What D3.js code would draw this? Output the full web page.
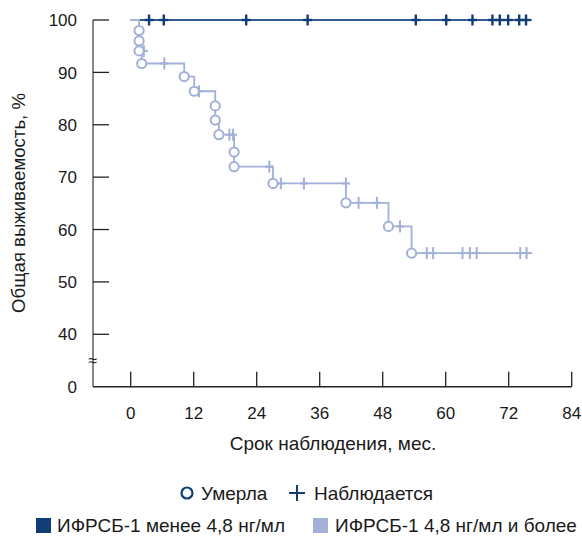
<!DOCTYPE html>
<html>
<head>
<meta charset="utf-8">
<script src="https://cdn.jsdelivr.net/npm/d3@7"></script>
<style>
  body { margin: 0; background: #fff; }
  svg text { font-family: "Liberation Sans", Arial, sans-serif; fill: #1a1a1a; }
</style>
</head>
<body>
<div id="chart"></div>
<script>
// données (mois, %)
const xTicks = [0, 12, 24, 36, 48, 60, 72, 84];
const yTicks = [0, 40, 50, 60, 70, 80, 90, 100];

// groupe ИФРСБ-1 < 4,8 : aucun décès, seulement des censures
const lowEnd = 76.4;
const lowCensorTimes = [3.5, 6.3, 22.0, 33.7, 54.3, 60.1, 65.1, 68.9, 70.3, 71.9, 74.0, 75.3];

// groupe ИФРСБ-1 >= 4,8
const highEnd = 76.5;
const highDeathTimes = [1.6, 1.6, 1.6, 2.1, 10.2, 12.1, 16.1, 16.1, 16.8, 19.7, 19.7, 27.1, 41.0, 49.1, 53.5];
const highDeathSurv  = [98.0, 96.0, 94.1, 91.7, 89.2, 86.4, 83.6, 80.9, 78.1, 74.8, 72.0, 68.8, 65.1, 60.6, 55.5];
const highCensorTimes = [2.5, 6.4, 13.0, 18.8, 19.5, 26.4, 28.6, 33.0, 41.0, 43.4, 46.9, 51.3, 56.4, 57.6, 63.2, 64.6, 65.9, 74.2, 75.4];
const highCensorSurv  = [94.1, 91.7, 86.4, 78.1, 78.1, 72.0, 68.8, 68.8, 68.8, 65.1, 65.1, 60.6, 55.5, 55.5, 55.5, 55.5, 55.5, 55.5, 55.5];

const legendMarks = ["Умерла", "Наблюдается"];
const legendGroups = ["ИФРСБ-1 менее 4,8 нг/мл", "ИФРСБ-1 4,8 нг/мл и более"];

const darkLine = "#2f5d92";
const darkMark = "#103d76";
const light = "#a3b0d7";

const width = 582, height = 536;
const svg = d3.select("#chart").append("svg")
  .attr("width", width).attr("height", height);

const x = d3.scaleLinear().domain([0, 84]).range([130.7, 571.7]);
// axe coupé : 0 puis 40–100
const y = d3.scaleLinear().domain([0, 40, 100]).range([386.7, 334.3, 20]);
const axisLeftX = 93;

// axe Y
svg.append("line")
  .attr("x1", axisLeftX).attr("x2", axisLeftX)
  .attr("y1", y(100)).attr("y2", y(0))
  .attr("stroke", "#555").attr("stroke-width", 1.4);

svg.selectAll(".ytick").data(yTicks.filter(d => d > 0)).enter()
  .append("line")
    .attr("x1", axisLeftX).attr("x2", axisLeftX + 16)
    .attr("y1", d => y(d)).attr("y2", d => y(d))
    .attr("stroke", "#222").attr("stroke-width", 1.3);

svg.selectAll(".ylab").data(yTicks).enter()
  .append("text")
    .attr("x", 77).attr("y", d => y(d))
    .attr("dy", "0.36em")
    .attr("text-anchor", "end")
    .attr("font-size", 17)
    .text(d => d);

// symbole de coupure
svg.append("text")
  .attr("x", axisLeftX).attr("y", 360)
  .attr("dy", "0.35em")
  .attr("text-anchor", "middle")
  .attr("font-size", 16)
  .text("≈");

// axe X
svg.append("line")
  .attr("x1", axisLeftX).attr("x2", x(84))
  .attr("y1", y(0)).attr("y2", y(0))
  .attr("stroke", "#222").attr("stroke-width", 1.4);

svg.selectAll(".xtick").data(xTicks).enter()
  .append("line")
    .attr("x1", d => x(d)).attr("x2", d => x(d))
    .attr("y1", y(0)).attr("y2", y(0) - 15)
    .attr("stroke", "#222").attr("stroke-width", 1.3);

svg.selectAll(".xlab").data(xTicks).enter()
  .append("text")
    .attr("x", d => x(d)).attr("y", 413)
    .attr("dy", "0.36em")
    .attr("text-anchor", "middle")
    .attr("font-size", 17)
    .text(d => d);

svg.append("text")
  .attr("x", 333).attr("y", 443)
  .attr("dy", "0.36em")
  .attr("text-anchor", "middle")
  .attr("font-size", 19)
  .text("Срок наблюдения, мес.");

svg.append("text")
  .attr("transform", "translate(18,203) rotate(-90)")
  .attr("dy", "0.36em")
  .attr("text-anchor", "middle")
  .attr("font-size", 18.6)
  .text("Общая выживаемость, %");

// courbes de Kaplan-Meier
const step = d3.line().x(d => x(d[0])).y(d => y(d[1])).curve(d3.curveStepAfter);

const lowPts = [[0, 100], [lowEnd, 100]];
svg.append("path")
  .attr("d", step(lowPts))
  .attr("fill", "none").attr("stroke", darkLine).attr("stroke-width", 2);

const highPts = [[0, 100]];
highDeathTimes.forEach((t, i) => highPts.push([t, highDeathSurv[i]]));
highPts.push([highEnd, highDeathSurv[highDeathSurv.length - 1]]);
svg.append("path")
  .attr("d", step(highPts))
  .attr("fill", "none").attr("stroke", light).attr("stroke-width", 1.8);

// censures
function plus(g, cx, cy, h, w, color, sw) {
  g.append("line").attr("x1", cx).attr("x2", cx).attr("y1", cy - h).attr("y2", cy + h)
    .attr("stroke", color).attr("stroke-width", sw);
  g.append("line").attr("x1", cx - w).attr("x2", cx + w).attr("y1", cy).attr("y2", cy)
    .attr("stroke", color).attr("stroke-width", sw);
}

const gMarks = svg.append("g");
highCensorTimes.forEach((t, i) => plus(gMarks, x(t), y(highCensorSurv[i]), 6, 4, light, 2));
lowCensorTimes.forEach(t => plus(gMarks, x(t), y(100), 5.5, 4.5, darkMark, 2.4));

// décès
gMarks.selectAll("circle").data(highDeathTimes).enter()
  .append("circle")
    .attr("cx", d => x(d))
    .attr("cy", (d, i) => y(highDeathSurv[i]))
    .attr("r", 4.6)
    .attr("fill", "#fff")
    .attr("stroke", light).attr("stroke-width", 2);

// légende
const lg = svg.append("g");
lg.append("circle").attr("cx", 187).attr("cy", 493).attr("r", 5.5)
  .attr("fill", "none").attr("stroke", darkMark).attr("stroke-width", 2.2);
lg.append("text").attr("x", 201).attr("y", 493).attr("dy", "0.36em")
  .attr("font-size", 19).text(legendMarks[0]);
plus(lg, 297, 493, 8, 8, darkMark, 2);
lg.append("text").attr("x", 314).attr("y", 493).attr("dy", "0.36em")
  .attr("font-size", 19).text(legendMarks[1]);

lg.append("rect").attr("x", 36).attr("y", 518).attr("width", 15).attr("height", 15)
  .attr("fill", darkMark);
lg.append("text").attr("x", 57).attr("y", 525.5).attr("dy", "0.36em")
  .attr("font-size", 19).text(legendGroups[0]);
lg.append("rect").attr("x", 313).attr("y", 518).attr("width", 15).attr("height", 15)
  .attr("fill", light);
lg.append("text").attr("x", 335).attr("y", 525.5).attr("dy", "0.36em")
  .attr("font-size", 19).text(legendGroups[1]);
</script>
</body>
</html>
